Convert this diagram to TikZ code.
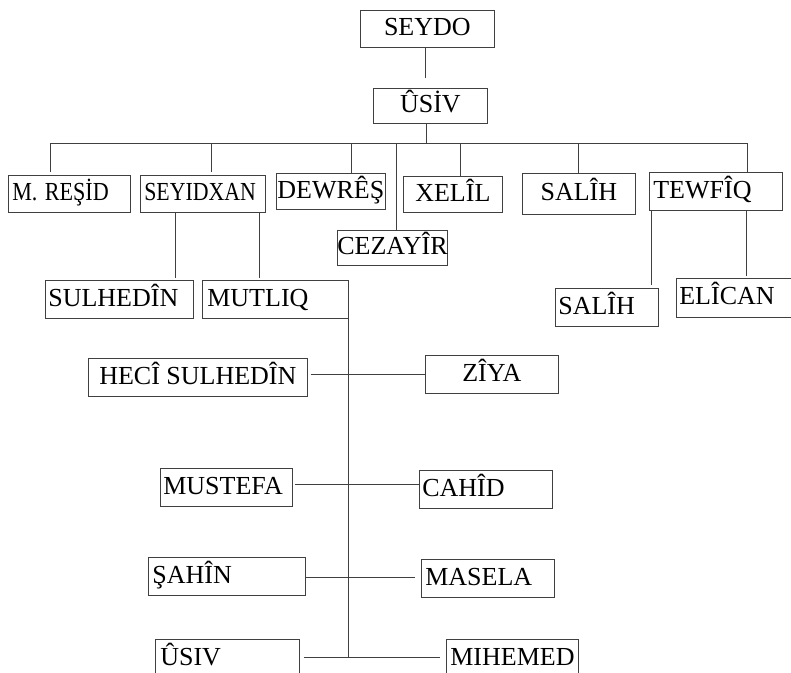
\documentclass[tikz,border=0pt]{standalone}
\usepackage{fontspec}
\setmainfont{Liberation Serif}
\begin{document}
\begin{tikzpicture}[x=1pt,y=-1pt]
\tikzset{
  box/.style={draw=black!75, line width=0.7pt, anchor=north west, inner ysep=0pt,
    text height=17.5pt, text depth=4pt, font=\fontsize{26}{29}\selectfont},
  boxc/.style 2 args={box, inner xsep=0pt, minimum width=#1pt, minimum height=#2pt},
  boxl/.style n args={3}{box, text width=#1pt, minimum height=#2pt, inner xsep=#3pt, align=left},
  conn/.style={draw=black!75, line width=0.7pt}
}
\useasboundingbox (0,0) rectangle (791,672);
\clip (0,0) rectangle (791,672);
% generation 1-2
\node[boxc={134}{37}] (seydo) at (360,10) {SEYDO};
\node[boxc={114}{35}] (usiv) at (373,88) {ÛSİV};
% generation 3
\node[boxl={114}{37}{4}] (mresid) at (8,175) {\mbox{\scalebox{0.85}[1]{M. REŞİD}}};
\node[boxl={117}{37}{4}] (seyidxan) at (140,175) {\mbox{\scalebox{0.84}[1]{SEYIDXAN}}};
\node[boxc={109}{36}] (dewres) at (276,173) {DEWRÊŞ};
\node[boxc={110}{35}] (cezayir) at (337,230) {CEZAYÎR};
\node[boxc={99}{36}] (xelil) at (403,176) {XELÎL};
\node[boxc={113}{41}] (salih) at (522,173) {SALÎH};
\node[boxl={125}{38}{4}] (tewfiq) at (649,172) {\mbox{TEWFÎQ}};
% generation 4
\node[boxl={142}{38}{3}] (sulhedin) at (45,280) {\mbox{SULHEDÎN}};
\node[boxl={136}{38}{5}] (mutliq) at (202,280) {\mbox{MUTLIQ}};
\node[boxl={97}{38}{3}] (salih2) at (555,288) {\mbox{SALÎH}};
\node[boxl={110}{39}{3}] (elican) at (676,278) {\mbox{ELÎCAN}};
% children of MUTLIQ
\node[boxc={219}{38}] (heci) at (88,358) {HECÎ SULHEDÎN};
\node[boxc={133}{38}] (ziya) at (425,355) {ZÎYA};
\node[boxl={126}{38}{3}] (mustefa) at (160,468) {\mbox{MUSTEFA}};
\node[boxl={127}{38}{3}] (cahid) at (419,470) {\mbox{CAHÎD}};
\node[boxl={149}{38}{4}] (sahin) at (148,557) {\mbox{ŞAHÎN}};
\node[boxl={125}{38}{4}] (masela) at (421,559) {\mbox{MASELA}};
\node[boxl={134}{39}{5}] (usiv2) at (155,639) {\mbox{ÛSIV}};
\node[boxl={124}{39}{4}] (mihemed) at (446,639) {\mbox{MIHEMED}};
% helper coordinates
\coordinate (s) at (425,0);
\coordinate (u) at (426,143);
\coordinate (b1) at (50,143);
\coordinate (b2) at (211,143);
\coordinate (b3) at (351,143);
\coordinate (b4) at (396,143);
\coordinate (b5) at (460,143);
\coordinate (b6) at (578,143);
\coordinate (b7) at (747,143);
\coordinate (d1) at (175,0);
\coordinate (d2) at (259,0);
\coordinate (t1) at (651,0);
\coordinate (t2) at (746,0);
\coordinate (h1) at (0,374);
\coordinate (h2) at (0,484);
\coordinate (h3) at (0,577);
\coordinate (h4) at (0,657);
% connectors
\draw[conn, shorten >=10pt] (s |- seydo.south) -- (s |- usiv.north);
\draw[conn] (u |- usiv.south) -- (u);
\draw[conn] (b1) -- (b7);
\draw[conn, shorten >=3pt] (b1) -- (b1 |- mresid.north);
\draw[conn, shorten >=3pt] (b2) -- (b2 |- seyidxan.north);
\draw[conn] (b3) -- (b3 |- dewres.north);
\draw[conn] (b4) -- (b4 |- cezayir.north);
\draw[conn] (b5) -- (b5 |- xelil.north);
\draw[conn] (b6) -- (b6 |- salih.north);
\draw[conn] (b7) -- (b7 |- tewfiq.north);
\draw[conn, shorten >=2pt] (d1 |- seyidxan.south) -- (d1 |- sulhedin.north);
\draw[conn, shorten >=2pt] (d2 |- seyidxan.south) -- (d2 |- mutliq.north);
\draw[conn, shorten >=3pt] (t1 |- tewfiq.south) -- (t1 |- salih2.north);
\draw[conn, shorten >=2pt] (t2 |- tewfiq.south) -- (t2 |- elican.north);
\draw[conn] (mutliq.south east) -- (mutliq.south east |- h4);
\draw[conn, shorten <=3pt] (heci.east |- h1) -- (ziya.west |- h1);
\draw[conn, shorten <=2pt] (mustefa.east |- h2) -- (cahid.west |- h2);
\draw[conn, shorten >=6pt] (sahin.east |- h3) -- (masela.west |- h3);
\draw[conn, shorten <=4pt, shorten >=6pt] (usiv2.east |- h4) -- (mihemed.west |- h4);
\end{tikzpicture}
\end{document}
